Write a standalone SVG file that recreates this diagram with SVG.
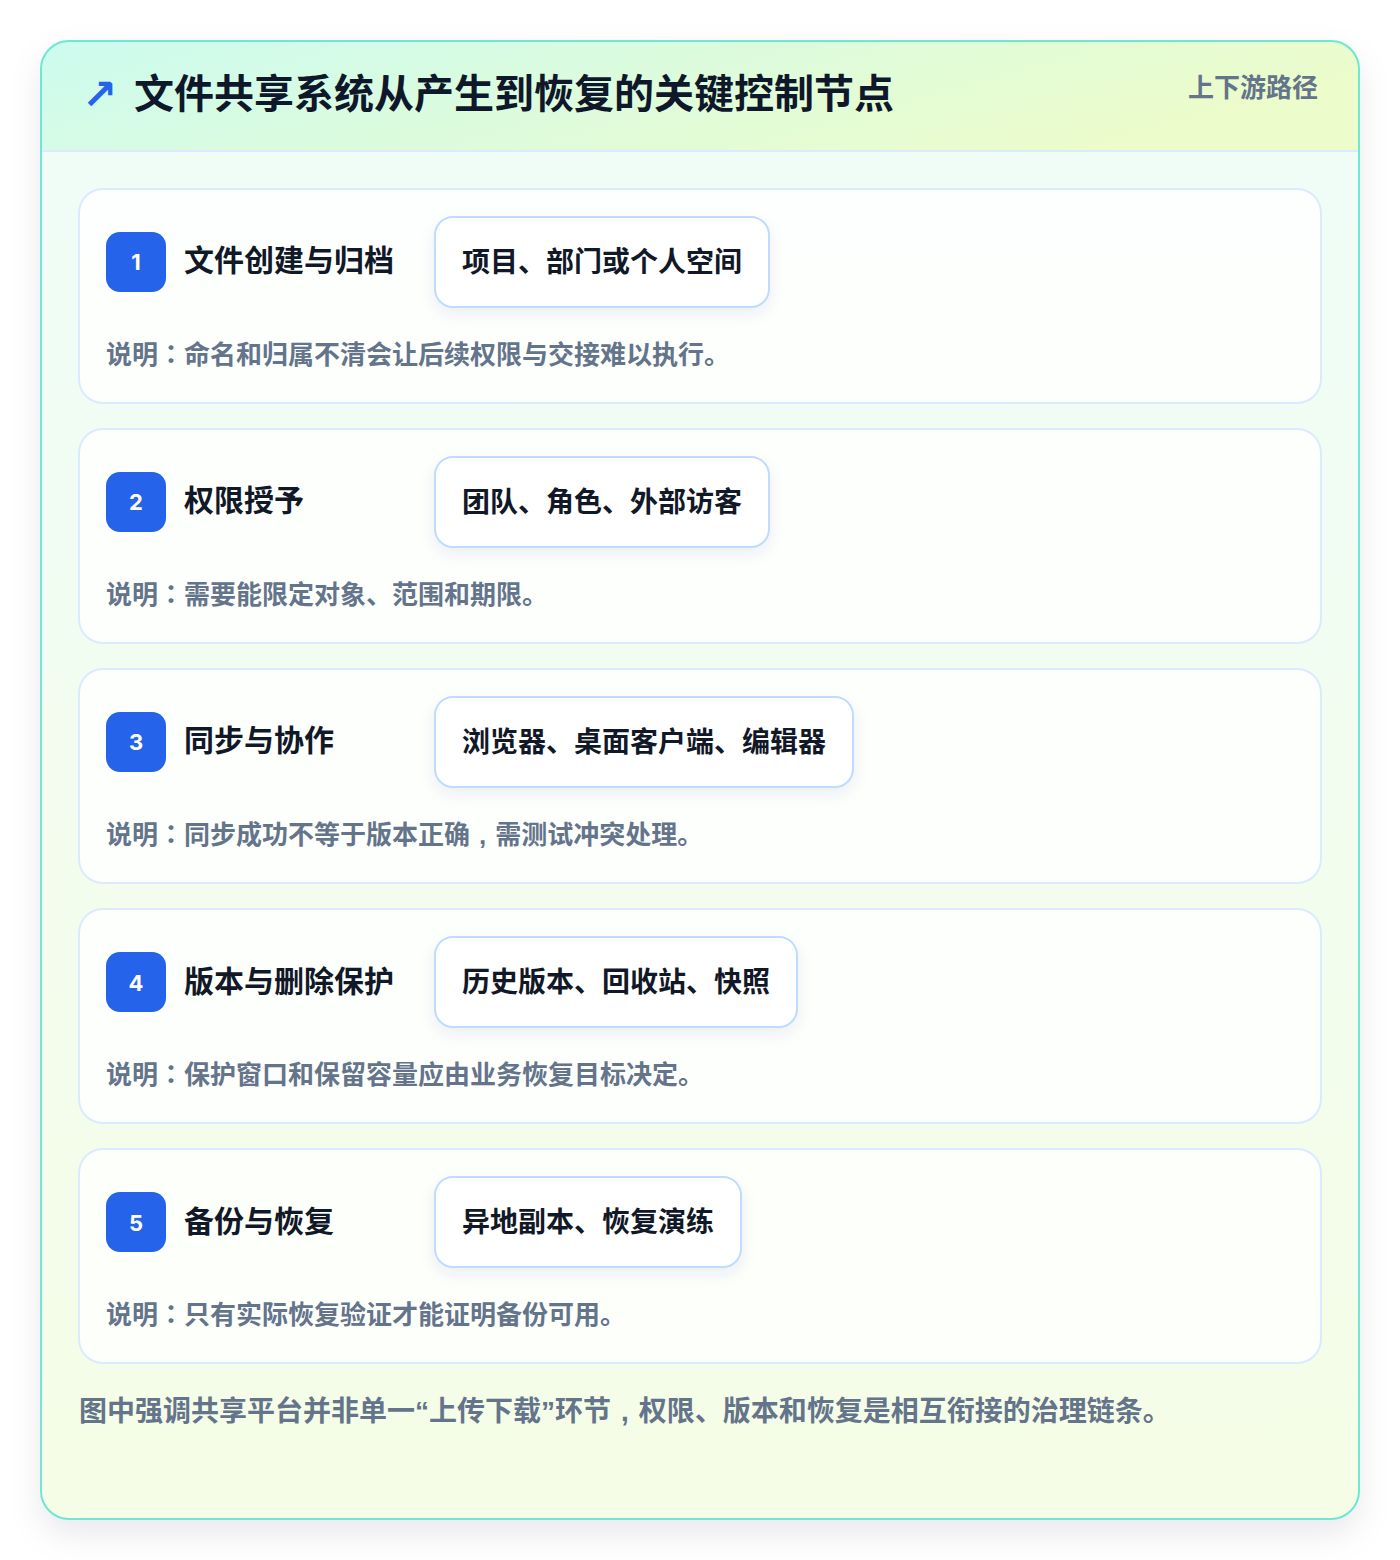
<svg xmlns="http://www.w3.org/2000/svg" width="1400" height="1560" viewBox="0 0 1400 1560">
<defs>
<linearGradient id="hdr" x1="0" y1="0" x2="1" y2="0.3">
<stop offset="0" stop-color="#ccfbef"/>
<stop offset="1" stop-color="#ecfccb"/>
</linearGradient>
<linearGradient id="body" x1="0" y1="0" x2="0" y2="1">
<stop offset="0" stop-color="#effdf8"/>
<stop offset="1" stop-color="#f5fde6"/>
</linearGradient>
<filter id="sh" x="-10%" y="-10%" width="120%" height="125%">
<feDropShadow dx="0" dy="14" stdDeviation="16" flood-color="#0f172a" flood-opacity="0.09"/>
</filter>
<filter id="psh" x="-20%" y="-30%" width="140%" height="170%">
<feDropShadow dx="0" dy="6" stdDeviation="7" flood-color="#1e3a8a" flood-opacity="0.08"/>
</filter>
<clipPath id="outerClip"><rect x="41" y="41" width="1318" height="1478" rx="28"/></clipPath>
<style>
text{font-family:"Noto Sans CJK SC","Noto Sans",sans-serif;font-weight:700}
.tc{font-family:"Noto Sans CJK TC","Noto Sans CJK SC",sans-serif}
.q{font-family:"Liberation Sans","Noto Sans",sans-serif}
.card{fill:#ffffff;fill-opacity:0.82;stroke:#dbeafe;stroke-width:2}
.badge{fill:#2563eb}
.num{fill:#ffffff;font-family:Inter,"Noto Sans",sans-serif;font-size:22px;text-anchor:middle}
.title{fill:#111827;font-size:30px}
.pill{fill:#ffffff;stroke:#bfdbfe;stroke-width:2}
.ptxt{fill:#111827;font-size:28px}
.desc{fill:#64748b;font-size:26px}
</style>
</defs>
<rect width="1400" height="1560" fill="#ffffff"/>
<g id="frame">
<rect x="41" y="41" width="1318" height="1478" rx="28" fill="url(#body)" filter="url(#sh)"/>
<g clip-path="url(#outerClip)">
<rect x="41" y="41" width="1318" height="110" fill="url(#hdr)"/>
<line x1="41" y1="151" x2="1359" y2="151" stroke="#dbeafe" stroke-width="2"/>
</g>
<rect x="41" y="41" width="1318" height="1478" rx="28" fill="none" stroke="#6ee7d4" stroke-width="2"/>
<text x="82" y="109" font-size="42" fill="#2563eb" style="font-family:'DejaVu Sans',sans-serif;font-weight:700">↗</text>
<text x="134" y="108" font-size="40" fill="#0f172a">文件共享系统从产生到恢复的关键控制节点</text>
<text x="1318" y="97" font-size="26" fill="#64748b" text-anchor="end">上下游路径</text>
</g>
<g id="node1">
<rect class="card" x="79" y="189" width="1242" height="214" rx="24"/>
<rect class="badge" x="106" y="232" width="60" height="60" rx="14"/>
<text class="num" x="136" y="270">1</text>
<text class="title" x="184" y="271">文件创建与归档</text>
<rect class="pill" x="435" y="217" width="334" height="90" rx="18" filter="url(#psh)"/>
<text class="ptxt" x="462" y="272">项目、部门或个人空间</text>
<text class="desc" x="106" y="364">说明<tspan class="tc">：</tspan>命名和归属不清会让后续权限与交接难以执行。</text>
</g>
<g id="node2">
<rect class="card" x="79" y="429" width="1242" height="214" rx="24"/>
<rect class="badge" x="106" y="472" width="60" height="60" rx="14"/>
<text class="num" x="136" y="510">2</text>
<text class="title" x="184" y="511">权限授予</text>
<rect class="pill" x="435" y="457" width="334" height="90" rx="18" filter="url(#psh)"/>
<text class="ptxt" x="462" y="512">团队、角色、外部访客</text>
<text class="desc" x="106" y="604">说明<tspan class="tc">：</tspan>需要能限定对象、范围和期限。</text>
</g>
<g id="node3">
<rect class="card" x="79" y="669" width="1242" height="214" rx="24"/>
<rect class="badge" x="106" y="712" width="60" height="60" rx="14"/>
<text class="num" x="136" y="750">3</text>
<text class="title" x="184" y="751">同步与协作</text>
<rect class="pill" x="435" y="697" width="418" height="90" rx="18" filter="url(#psh)"/>
<text class="ptxt" x="462" y="752">浏览器、桌面客户端、编辑器</text>
<text class="desc" x="106" y="844">说明<tspan class="tc">：</tspan>同步成功不等于版本正确<tspan class="q" dx="9">,</tspan><tspan dx="9">需测试冲突处理。</tspan></text>
</g>
<g id="node4">
<rect class="card" x="79" y="909" width="1242" height="214" rx="24"/>
<rect class="badge" x="106" y="952" width="60" height="60" rx="14"/>
<text class="num" x="136" y="991">4</text>
<text class="title" x="184" y="992">版本与删除保护</text>
<rect class="pill" x="435" y="937" width="362" height="90" rx="18" filter="url(#psh)"/>
<text class="ptxt" x="462" y="992">历史版本、回收站、快照</text>
<text class="desc" x="106" y="1084">说明<tspan class="tc">：</tspan>保护窗口和保留容量应由业务恢复目标决定。</text>
</g>
<g id="node5">
<rect class="card" x="79" y="1149" width="1242" height="214" rx="24"/>
<rect class="badge" x="106" y="1192" width="60" height="60" rx="14"/>
<text class="num" x="136" y="1231">5</text>
<text class="title" x="184" y="1232">备份与恢复</text>
<rect class="pill" x="435" y="1177" width="306" height="90" rx="18" filter="url(#psh)"/>
<text class="ptxt" x="462" y="1232">异地副本、恢复演练</text>
<text class="desc" x="106" y="1324">说明<tspan class="tc">：</tspan>只有实际恢复验证才能证明备份可用。</text>
</g>
<g id="connectors"/>
<text x="79" y="1421" font-size="28" fill="#64748b">图中强调共享平台并非单一<tspan class="q">“</tspan>上传下载<tspan class="q">”</tspan>环节<tspan class="q" dx="10">,</tspan><tspan dx="10">权限、版本和恢复是相互衔接的治理链条。</tspan></text>
</svg>
